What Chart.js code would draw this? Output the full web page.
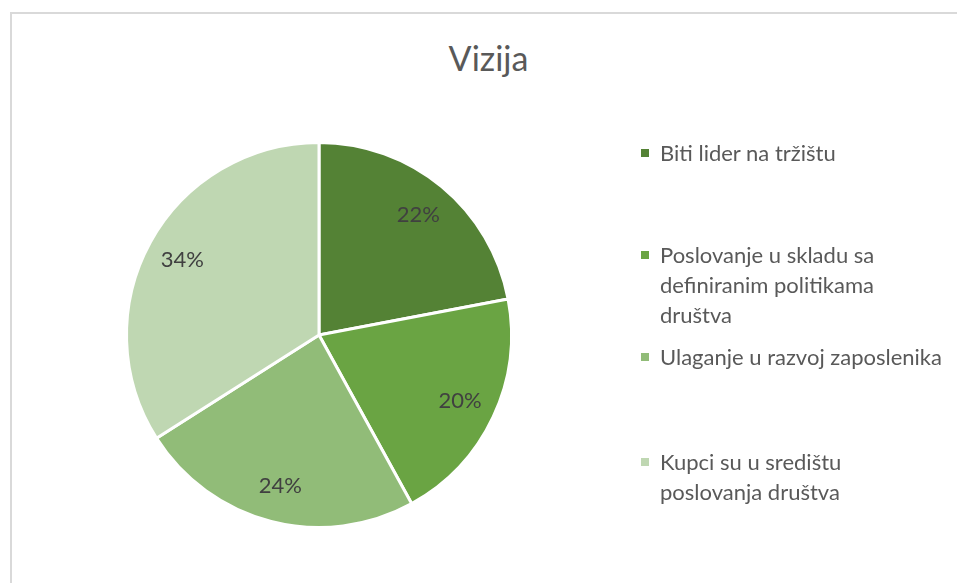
<!DOCTYPE html>
<html>
<head>
<meta charset="utf-8">
<script src="https://cdn.jsdelivr.net/npm/chart.js@4"></script>
<style>
  html, body { margin: 0; padding: 0; background: #fff; overflow: hidden; }
  body { width: 957px; height: 583px; position: relative; font-family: Lato, "Open Sans", sans-serif; }
  .frame { position: absolute; left: 10px; top: 12px; width: 1000px; height: 700px;
           border-left: 2px solid #d9d9d9; border-top: 2px solid #d9d9d9; }
  #chart-box { position: absolute; left: 12px; top: 14px; width: 953px; height: 569px; }
  .title { position: absolute; left: 12px; width: 953px; top: 38px; text-align: center;
           font-size: 34px; color: #595959; line-height: 40px; }
  .legend { position: absolute; left: 640px; top: 0; color: #595959; font-size: 22px; }
  .legend .item { position: absolute; left: 0; white-space: nowrap; line-height: 30px; }
  .legend .swatch { position: absolute; left: 1px; top: 11px; width: 8px; height: 8px; }
  .legend .text { position: absolute; left: 20px; top: 0; }
</style>
</head>
<body>
<div class="frame"></div>
<div class="title">Vizija</div>
<div id="chart-box"><canvas id="my-chart"></canvas></div>
<div class="legend" id="legend"></div>
<script>
const labels = ['Biti lider na tržištu', 'Poslovanje u skladu sa definiranim politikama društva', 'Ulaganje u razvoj zaposlenika', 'Kupci su u središtu poslovanja društva'];
const values = [22, 20, 24, 34];
const colors = ['#548235', '#6aa443', '#91bc78', '#bfd7b2'];
// how the legend text wraps in the original
const legendLines = [
  ['Biti lider na tržištu'],
  ['Poslovanje u skladu sa', 'definiranim politikama', 'društva'],
  ['Ulaganje u razvoj zaposlenika'],
  ['Kupci su u središtu', 'poslovanja društva']
];
const legendTops = [138, 240, 342, 447];

const legend = document.getElementById('legend');
legendLines.forEach((lines, i) => {
  const item = document.createElement('div');
  item.className = 'item';
  item.style.top = legendTops[i] + 'px';
  item.innerHTML = '<span class="swatch" style="background:' + colors[i] + '"></span>' +
    '<span class="text">' + lines.join('<br>') + '</span>';
  legend.appendChild(item);
});

const pctLabels = {
  id: 'pctLabels',
  afterDatasetsDraw(chart) {
    const ctx = chart.ctx;
    const meta = chart.getDatasetMeta(0);
    const total = values.reduce((a, b) => a + b, 0);
    ctx.save();
    ctx.font = '22px Lato, "Open Sans", sans-serif';
    ctx.fillStyle = '#404040';
    ctx.textAlign = 'center';
    ctx.textBaseline = 'middle';
    meta.data.forEach((arc, i) => {
      const p = arc.getProps(['x', 'y', 'startAngle', 'endAngle', 'outerRadius'], true);
      const mid = (p.startAngle + p.endAngle) / 2;
      const r = p.outerRadius * 0.81;
      ctx.fillText(Math.round(values[i] / total * 100) + '%', p.x + Math.cos(mid) * r, p.y + Math.sin(mid) * r);
    });
    ctx.restore();
  }
};

const canvas = document.getElementById('my-chart');
new Chart(canvas.getContext('2d'), {
  type: 'pie',
  data: {
    labels: labels,
    datasets: [{
      data: values,
      backgroundColor: colors,
      borderColor: '#ffffff',
      borderWidth: 3
    }]
  },
  options: {
    responsive: true,
    maintainAspectRatio: false,
    animation: false,
    layout: { padding: { left: 113, right: 452, top: 127, bottom: 54 } },
    plugins: {
      legend: { display: false },
      tooltip: { enabled: false },
      title: { display: false }
    }
  },
  plugins: [pctLabels]
});
</script>
</body>
</html>
